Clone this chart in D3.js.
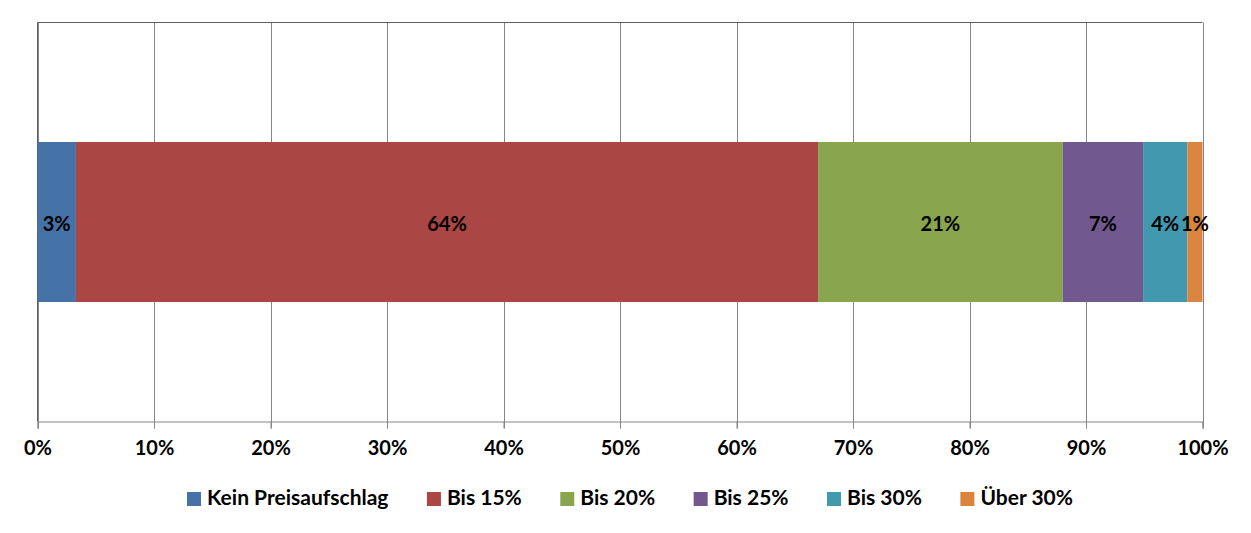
<!DOCTYPE html>
<html><head><meta charset="utf-8">
<script src="https://cdn.jsdelivr.net/npm/d3@7"></script>
<style>body{margin:0;background:#fff}svg{display:block}text{font-family:Lato,"Open Sans",sans-serif;font-weight:bold}</style>
</head><body><svg id="c" width="1251" height="533"></svg>
<script>
const categories = ["Kein Preisaufschlag","Bis 15%","Bis 20%","Bis 25%","Bis 30%","Über 30%"];
const values = [3.3, 63.7, 21.0, 6.9, 3.8, 1.3];
const dataLabels = ["3%","64%","21%","7%","4%","1%"];
const colors = ["#4572A7","#AA4643","#89A54E","#71588F","#4198AF","#DB843D"];
const tickValues = [0,10,20,30,40,50,60,70,80,90,100];

const svg = d3.select("#c");
const L=37.5, R=1202.5, T=22.5, B=421.5;
const x = d3.scaleLinear().domain([0,100]).range([L,R]);
const y = d3.scaleBand().domain(["row"]).range([T,B]).paddingInner(0).paddingOuter(0.747);
const FS = 20;

// gridlines
svg.append("g").selectAll("line").data(tickValues).join("line")
  .attr("x1",d=>Math.round(x(d))+0.5).attr("x2",d=>Math.round(x(d))+0.5)
  .attr("y1",T).attr("y2",B+7).attr("stroke","#868686").attr("stroke-width",1);
// plot border top/left
svg.append("path").attr("d",`M${L},${B}V${T}H${R}`).attr("fill","none").attr("stroke","#5f5f5f").attr("stroke-width",1);

// axis
const axis = d3.axisBottom(x).tickValues(tickValues).tickFormat(d=>d+"%").tickSize(7).tickPadding(12);
const ag = svg.append("g").attr("transform",`translate(0,${B})`).call(axis);
ag.select(".domain").attr("stroke","#868686");
ag.selectAll(".tick line").attr("stroke","#868686");
ag.selectAll("text").attr("font-size",FS).attr("fill","#000").style("font-family","Lato,'Open Sans',sans-serif").style("font-weight","bold");

// stacked segments
let acc=0;
const segs = values.map((v,i)=>{const s={i,start:acc,end:acc+v,v}; acc+=v; return s;});
svg.append("g").selectAll("rect").data(segs).join("rect")
  .attr("x",d=>x(d.start)).attr("width",d=>x(d.end)-x(d.start))
  .attr("y",y("row")).attr("height",y.bandwidth())
  .attr("fill",d=>colors[d.i]);
svg.append("g").selectAll("text").data(segs).join("text")
  .attr("x",d=>x((d.start+d.end)/2)).attr("y",y("row")+y.bandwidth()/2+2)
  .attr("dy","0.35em").attr("text-anchor","middle").attr("font-size",FS).attr("fill","#000")
  .text(d=>dataLabels[d.i]);

// legend
const LFS = 21, legL = 187, legR = 1073;
const lg = svg.append("g");
const items = lg.selectAll("g").data(categories).join("g");
items.append("rect").attr("width",14).attr("height",14).attr("y",-13).attr("fill",(d,i)=>colors[i]);
items.append("text").attr("x",20).attr("font-size",LFS).attr("fill","#000").text(d=>d);
const widths = [];
items.each(function(){ widths.push(20 + d3.select(this).select("text").node().getComputedTextLength()); });
const gap = (legR - legL - d3.sum(widths)) / (categories.length - 1);
let lx = 0;
items.each(function(d,i){
  d3.select(this).attr("transform",`translate(${lx},0)`);
  lx += widths[i] + gap;
});
lg.attr("transform",`translate(${legL},505)`);
</script></body></html>
